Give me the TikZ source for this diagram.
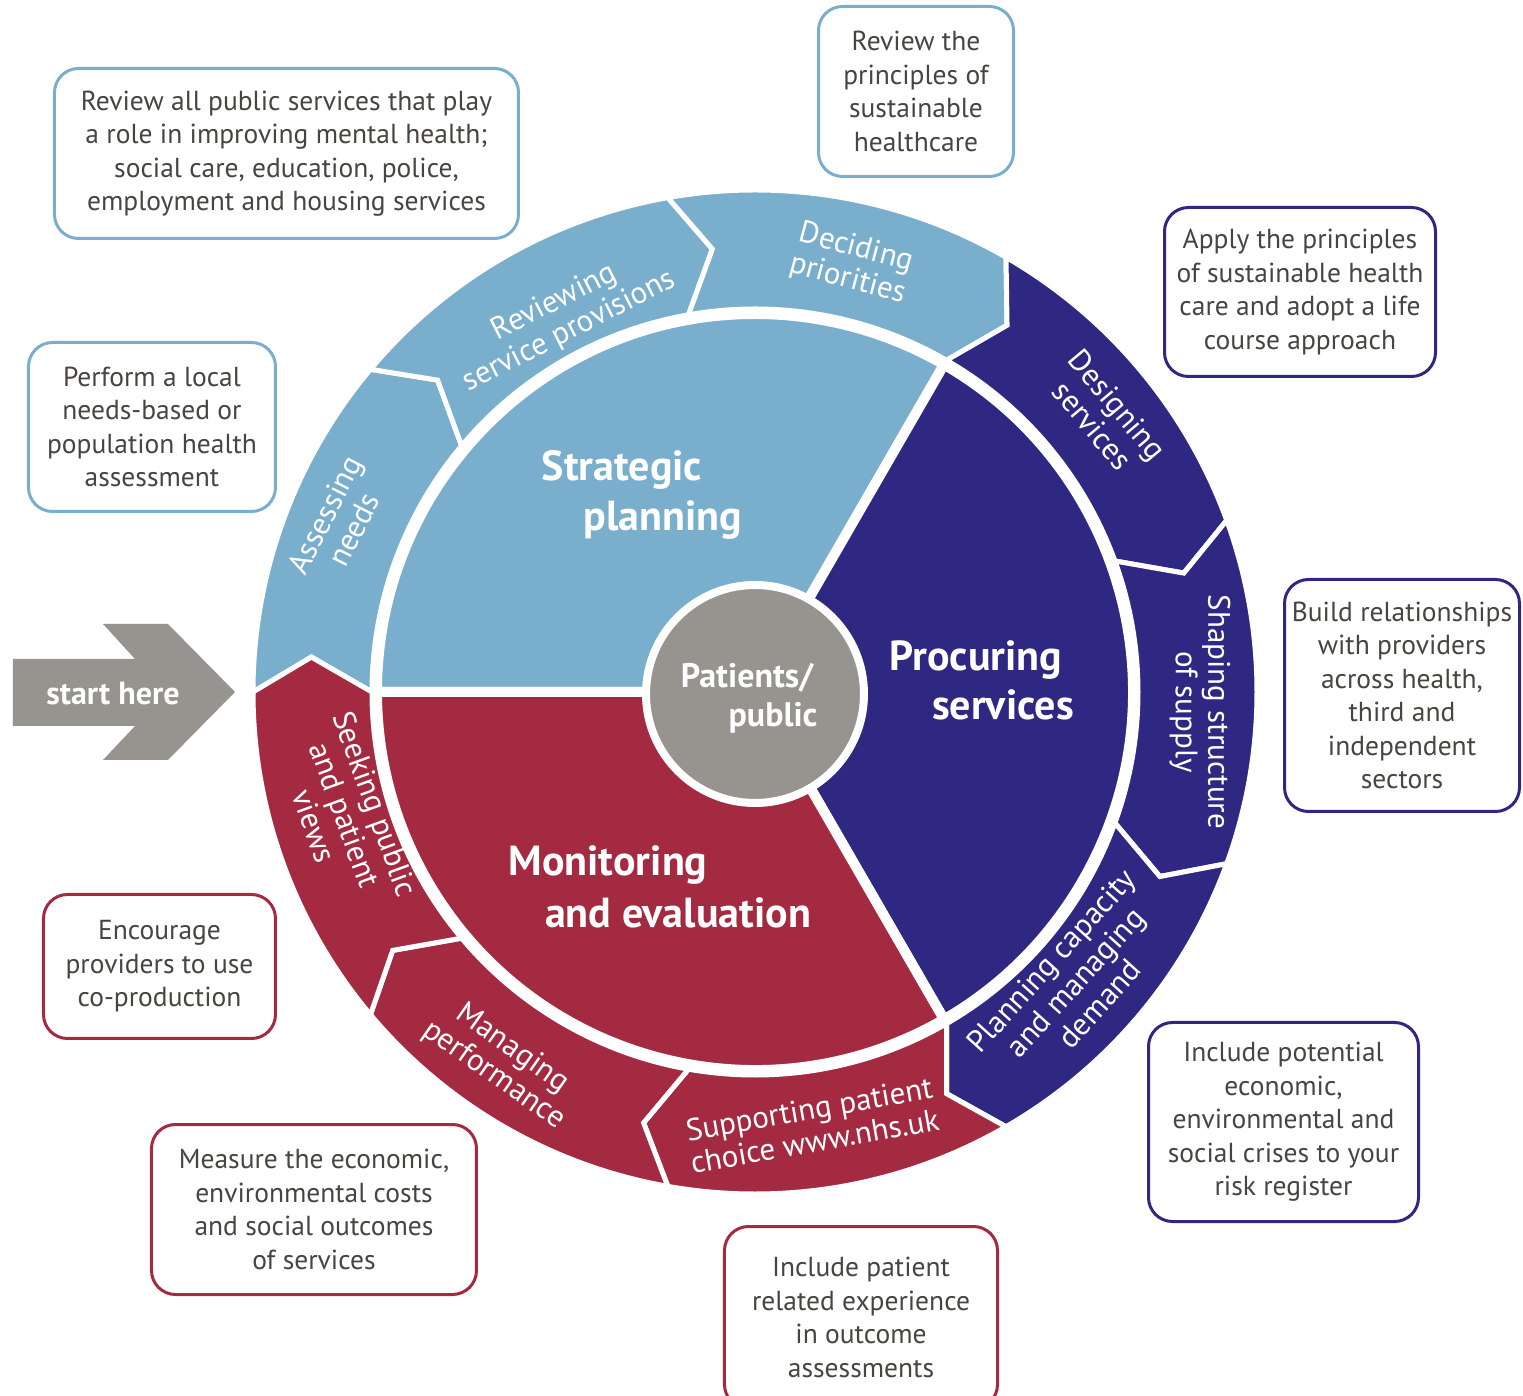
\documentclass[tikz,border=0pt]{standalone}
\usepackage{fontspec}
\setmainfont{PT Sans}
\definecolor{lblue}{HTML}{7AAECD}
\definecolor{dblue}{HTML}{2F2883}
\definecolor{mred}{HTML}{A42A42}
\definecolor{cgray}{HTML}{97938E}
\definecolor{txtgray}{HTML}{48443F}
\newcommand\ringseg[3]{%
  \pgfmathsetmacro\segA{#2-4.5}\pgfmathsetmacro\segB{#1-4.5}%
  \filldraw[fill=#3, draw=white, line width=5, line join=miter]
    (#1:502) arc[start angle=#1, end angle=#2, radius=502] -- (\segA:445) -- (#2:383)
    arc[start angle=#2, end angle=#1, radius=383] -- (\segB:445) -- cycle;}
\tikzset{
  infobox/.style={draw=#1, line width=3, rounded corners=24, fill=white, text=txtgray,
    align=center, inner sep=0, font=\fontsize{27.5}{33.5}\selectfont},
  ringlabel/.style={text=white, align=center, inner sep=0, font=\fontsize{31}{32.5}\selectfont},
  mainlabel/.style={text=white, align=center, inner sep=0, font=\bfseries\fontsize{42}{48}\selectfont},
  sector/.style={fill=#1, draw=white, line width=10, line join=miter}
}
\begin{document}
\begin{tikzpicture}[x=1pt,y=1pt]
\useasboundingbox (-755,-704) rectangle (768,692);
% inner sectors
\filldraw[sector=lblue] (0,0) -- (180:378) arc[start angle=180,end angle=60,radius=378] -- cycle;
\filldraw[sector=dblue] (0,0) -- (60:378) arc[start angle=60,end angle=-60,radius=378] -- cycle;
\filldraw[sector=mred] (0,0) -- (-60:378) arc[start angle=-60,end angle=-180,radius=378] -- cycle;
% outer ring
\ringseg{180}{140}{lblue}
\ringseg{140}{100}{lblue}
\ringseg{100}{60}{lblue}
\ringseg{60}{20}{dblue}
\ringseg{20}{-20}{dblue}
\ringseg{-20}{-60}{dblue}
\ringseg{-60}{-100}{mred}
\ringseg{-100}{-140}{mred}
\ringseg{-140}{-180}{mred}
% centre
\node[circle, fill=cgray, draw=white, line width=8, minimum size=218, inner sep=0] (pp) at (0,-2) {};
\node[text=white, inner sep=0, font=\bfseries\fontsize{34}{40}\selectfont] (pp1) at (-8,14) {Patients/};
\node[text=white, inner sep=0, font=\bfseries\fontsize{34}{40}\selectfont] (pp2) at (18,-26) {public};
% main labels
\node[mainlabel] (sp1) at (-133,222) {Strategic};
\node[mainlabel] (sp2) at (-92,172) {planning};
\node[mainlabel] (ps1) at (221,32) {Procuring};
\node[mainlabel] (ps2) at (248,-13) {services};
\node[mainlabel] (me1) at (-147,-173) {Monitoring};
\node[mainlabel] (me2) at (-77,-221) {and evaluation};
% ring labels
\node[ringlabel, rotate=63] (r1) at (-416,170) {Assessing\\needs};
\node[ringlabel, rotate=27] (r2) at (-193,375) {Reviewing\\service provisions};
\node[ringlabel, rotate=-15] (r3) at (97,428) {Deciding\\priorities};
\node[ringlabel, rotate=-50] (r4) at (350,277) {Designing\\services};
\node[ringlabel, rotate=-90] (r5) at (445,-20) {Shaping structure\\of supply};
\node[ringlabel, rotate=48] (r6) at (320,-290) {Planning capacity\\and managing\\demand};
\node[ringlabel, rotate=10] (r7) at (57,-433) {Supporting patient\\choice www.nhs.uk};
\node[ringlabel, rotate=-35] (r8) at (-252,-370) {Managing\\performance};
\node[ringlabel, rotate=-70] (r9) at (-410,-123) {Seeking public\\and patient\\views};
% start arrow
\fill[cgray] (-742,33) -- (-620,33) -- (-652,68) -- (-587,68) -- (-520,0) -- (-587,-68)
  -- (-652,-68) -- (-620,-34) -- (-742,-34) -- cycle;
\node[text=white, inner sep=0, font=\bfseries\fontsize{32}{36}\selectfont] (start) at (-642,-2) {start here};
% boxes
\node[infobox=lblue, minimum width=464, minimum height=170] (b1) at (-468.5,538.5)
  {Review all public services that play\\a role in improving mental health;\\social care, education, police,\\employment and housing services};
\node[infobox=lblue, minimum width=195, minimum height=170] (b2) at (161,600.5)
  {Review the\\principles of\\sustainable\\healthcare};
\node[infobox=lblue, minimum width=247, minimum height=169] (b3) at (-603,265)
  {Perform a local\\needs-based or\\population health\\assessment};
\node[infobox=dblue, minimum width=271, minimum height=169] (b4) at (545,400)
  {Apply the principles\\of sustainable health\\care and adopt a life\\course approach};
\node[infobox=dblue, minimum width=235, minimum height=232] (b5) at (647,-3.5)
  {Build relationships\\with providers\\across health,\\third and\\independent\\sectors};
\node[infobox=dblue, minimum width=270, minimum height=199] (b6) at (528.5,-430)
  {Include potential\\economic,\\environmental and\\social crises to your\\risk register};
\node[infobox=mred, minimum width=273, minimum height=182] (b7) at (106,-625.5)
  {Include patient\\related experience\\in outcome\\assessments};
\node[infobox=mred, minimum width=325, minimum height=170] (b8) at (-441,-517.5)
  {Measure the economic,\\environmental costs\\and social outcomes\\of services};
\node[infobox=mred, minimum width=232, minimum height=144] (b9) at (-595.5,-274.5)
  {Encourage\\providers to use\\co-production};
\end{tikzpicture}
\end{document}
